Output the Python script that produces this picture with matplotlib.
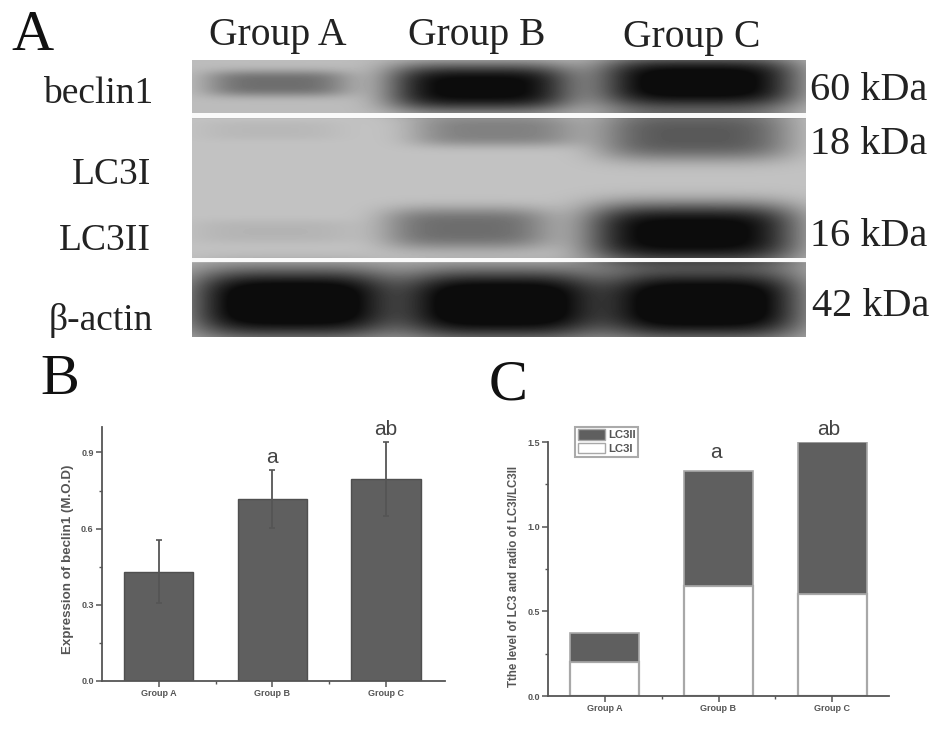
# -*- coding: utf-8 -*-
"""Western blot panel plus two bar charts (beclin1, LC3I/LC3II)"""
import numpy as np
import matplotlib; matplotlib.use("Agg")
import matplotlib.pyplot as plt
from matplotlib.patches import Patch
from matplotlib.ticker import MultipleLocator, FixedLocator

W, H = 945, 744
groups = ["Group A", "Group B", "Group C"]

# panel B
beclin = [0.431, 0.717, 0.795]
beclin_err = [0.125, 0.115, 0.145]
sig_b = ["", "a", "ab"]

# panel C
lc3i = [0.199, 0.65, 0.605]
lc3_total = [0.3725, 1.33, 1.5]
lc3ii = [t - i for t, i in zip(lc3_total, lc3i)]
sig_c = ["", "a", "ab"]
sig_c_y = [0.5, 1.44, 1.571]

# blot bands, pixel positions of the picture: centre x, half width, centre y, half height, darkness
band_x = [277, 480, 698,  270, 495, 695,  275, 467, 692,  292, 500, 702]
band_w = [72, 92, 100,  70, 84, 96,  84, 84, 106,  100, 98, 98]
band_y = [83, 87, 82,  130, 131, 135,  231, 228, 233,  303, 304, 304]
band_h = [13, 24, 26,  10, 15, 25,  12, 21, 30,  34, 34, 34]
band_d = [78, 185, 195,  10, 65, 105,  14, 85, 195,  195, 195, 195]

# labels around the blot
lane_labels = [("Group A", 278, 36), ("Group B", 477, 35), ("Group C", 692, 38)]
row_labels = [("beclin1", 153, 94), ("LC3I", 151, 175), ("LC3II", 151, 241), ("β-actin", 153, 320)]
size_labels = [("60 kDa", 810, 90), ("18 kDa", 810, 144), ("16 kDa", 810, 236), ("42 kDa", 812, 307)]

GREY = "#5f5f5f"
SERIF = ["Liberation Serif", "DejaVu Serif"]
SANS = ["Liberation Sans", "DejaVu Sans"]


def px_axes(fig, x0, y0, x1, y1):
    # y0 is the top edge, pixels counted from the top of the picture
    return fig.add_axes([x0 / W, 1 - y1 / H, (x1 - x0) / W, (y1 - y0) / H])


def blot_image():
    xs, ys = np.meshgrid(np.arange(192, 806), np.arange(60, 337))
    bg = np.full(xs.shape, 188.0)
    bg[ys > 262] = 176
    bg[(ys > 118) & (ys < 258)] = 194
    for x, w, y, h, d in zip(band_x, band_w, band_y, band_h, band_d):
        bg -= d * np.exp(-(np.abs((xs - x) / w) ** 4 + np.abs((ys - y) / h) ** 3.2))
    bg[(ys >= 113) & (ys <= 117)] = 250
    bg[(ys >= 258) & (ys <= 261)] = 250
    return np.clip(bg, 12, 255)


def style_axes(ax, ymajor, yminor, ylabel, label_size, label_y):
    for s in ["top", "right"]:
        ax.spines[s].set_visible(False)
    for s in ["left", "bottom"]:
        ax.spines[s].set_linewidth(1.3)
        ax.spines[s].set_color("#555555")
    ax.yaxis.set_major_locator(MultipleLocator(ymajor))
    ax.yaxis.set_minor_locator(MultipleLocator(yminor))
    ax.set_xticks([1, 2, 3])
    ax.set_xticklabels(groups)
    ax.xaxis.set_minor_locator(FixedLocator([1.5, 2.5]))
    ax.tick_params(axis="both", which="major", length=4, width=1.1, color="#555555", pad=2)
    ax.tick_params(axis="both", which="minor", length=2, width=1, color="#555555")
    for t in ax.get_xticklabels() + ax.get_yticklabels():
        t.set_family(SANS); t.set_fontsize(6.5); t.set_fontweight("bold"); t.set_color("#555555")
    ax.set_ylabel(ylabel, family=SANS, fontsize=label_size, fontweight="bold", color="#555555", labelpad=5, y=label_y)


fig = plt.figure(figsize=(W / 100, H / 100), dpi=100)

# panel A
bg = fig.add_axes([0, 0, 1, 1])
bg.set_xlim(0, W); bg.set_ylim(H, 0); bg.axis("off")
bg.imshow(blot_image(), cmap="gray", vmin=0, vmax=255, extent=(192, 806, 337, 60), aspect="auto", interpolation="bilinear")
bg.set_xlim(0, W); bg.set_ylim(H, 0)
for s, x, y in lane_labels:
    bg.text(x, y, s, family=SERIF, fontsize=28.5, color="#222222", ha="center", va="center")
for s, x, y in row_labels:
    bg.text(x, y, s, family=SERIF, fontsize=27, color="#222222", ha="right", va="center")
for s, x, y in size_labels:
    bg.text(x, y, s, family=SERIF, fontsize=29, color="#222222", ha="left", va="center")
for s, x, y in [("A", 32, 36), ("B", 60, 380), ("C", 508, 385)]:
    bg.text(x, y, s, family=SERIF, fontsize=42, color="#111111", ha="center", va="center")

# panel B
ax1 = px_axes(fig, 102, 427, 445, 681)
ax1.bar([1, 2, 3], beclin, width=0.61, color=GREY, edgecolor="#4f4f4f", linewidth=1)
ax1.errorbar([1, 2, 3], beclin, yerr=beclin_err, fmt="none", ecolor="#555555", elinewidth=1.3, capsize=2, capthick=1.2)
ax1.set_xlim(0.5, 3.52); ax1.set_ylim(0, 1.0)
style_axes(ax1, 0.3, 0.15, "Expression of beclin1 (M.O.D)", 9.6, 0.478)
for x, v, e, s in zip([1, 2, 3], beclin, beclin_err, sig_b):
    ax1.text(x, v + e + 0.012, s, family=SANS, fontsize=15, color="#444444", ha="center", va="bottom")

# panel C
ax2 = px_axes(fig, 548, 442, 889, 696)
b1 = ax2.bar([1, 2, 3], lc3i, width=0.605, color="white", edgecolor="#a8a8a8", linewidth=1.6)
b2 = ax2.bar([1, 2, 3], lc3ii, bottom=lc3i, width=0.605, color=GREY, edgecolor="#a8a8a8", linewidth=1.2)
ax2.set_xlim(0.5, 3.5); ax2.set_ylim(0, 1.5)
style_axes(ax2, 0.5, 0.25, "Tthe level of LC3 and radio of LC3I/LC3II", 8.3, 0.47)
for x, y, s in zip([1, 1.98, 2.97], sig_c_y, sig_c):
    ax2.text(x, y, s, family=SANS, fontsize=15, color="#444444", ha="center", va="center")
leg = ax2.legend(handles=[Patch(facecolor=GREY, edgecolor="#a8a8a8", label="LC3II"),
                          Patch(facecolor="white", edgecolor="#a8a8a8", label="LC3I")],
                 loc="upper left", bbox_to_anchor=(575.5 / W, 1 - 426.5 / H), bbox_transform=fig.transFigure,
                 frameon=True, fancybox=False, edgecolor="#aaaaaa", framealpha=1, borderaxespad=0,
                 prop={"family": SANS, "size": 8.2, "weight": "bold"}, labelcolor="#555555",
                 handlelength=2.3, handleheight=1.0, handletextpad=0.3, labelspacing=0.25, borderpad=0.25)
leg.get_frame().set_linewidth(1.5)
for ax in (ax1, ax2):
    ax.patch.set_alpha(0)

fig.savefig("out.png", dpi=100)
plt.close(fig)
